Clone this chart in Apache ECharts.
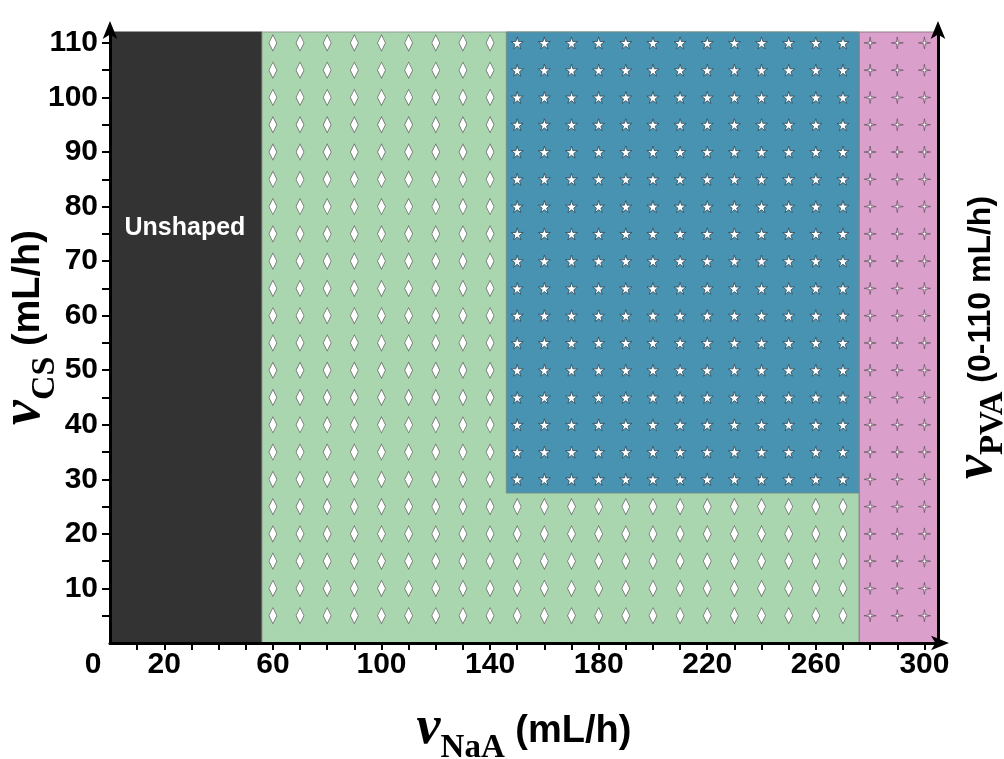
<!DOCTYPE html>
<html>
<head>
<meta charset="utf-8">
<script src="https://cdn.jsdelivr.net/npm/echarts@6/dist/echarts.min.js"></script>
<style>
html,body{margin:0;padding:0;background:#ffffff;}
#chart{width:1004px;height:759px;}
</style>
</head>
<body>
<div id="chart"></div>
<script>
// ---- axis ranges and tick values ----
const xRange = [0, 305];
const yRange = [0, 112];
const xLabelValues = [0, 20, 60, 100, 140, 180, 220, 260, 300];
const xTickValues = [10, 20, 30, 40, 50, 60, 70, 80, 90, 100, 110, 120, 130, 140, 150, 160, 170, 180, 190, 200, 210, 220, 230, 240, 250, 260, 270, 280, 290, 300];
const yLabelValues = [10, 20, 30, 40, 50, 60, 70, 80, 90, 100, 110];
const yTickValues = [5, 10, 15, 20, 25, 30, 35, 40, 45, 50, 55, 60, 65, 70, 75, 80, 85, 90, 95, 100, 105, 110];

// ---- regions (data coordinates) ----
const regionNames = ['Unshaped', 'Region A', 'Region B', 'Region C'];
const regionX0 = [0, 56, 146, 276];
const regionX1 = [56, 276, 276, 305];
const regionY0 = [0, 0, 27.5, 0];
const regionY1 = [112, 112, 112, 112];

// ---- marker grids ----
const diamondColsA = [60, 70, 80, 90, 100, 110, 120, 130, 140];
const diamondRowsA = [5, 10, 15, 20, 25, 30, 35, 40, 45, 50, 55, 60, 65, 70, 75, 80, 85, 90, 95, 100, 105, 110];
const diamondColsB = [150, 160, 170, 180, 190, 200, 210, 220, 230, 240, 250, 260, 270];
const diamondRowsB = [5, 10, 15, 20, 25];
const starCols = [150, 160, 170, 180, 190, 200, 210, 220, 230, 240, 250, 260, 270];
const starRows = [30, 35, 40, 45, 50, 55, 60, 65, 70, 75, 80, 85, 90, 95, 100, 105, 110];
const sparkleCols = [280, 290, 300];
const sparkleRows = [5, 10, 15, 20, 25, 30, 35, 40, 45, 50, 55, 60, 65, 70, 75, 80, 85, 90, 95, 100, 105, 110];

const unshapedLabelPos = [27.6, 76];

// ---- styles ----
const regionFill = ['#333333', '#a9d6af', '#4892b2', '#da9fcb'];
const regionStroke = ['#333333', '#8e9e90', '#6f8e8a', '#8f7a88'];

function grid(cols, rows) {
  const out = [];
  cols.forEach(c => rows.forEach(r => out.push([c, r])));
  return out;
}

const regionData = regionNames.map((n, i) => [regionX0[i], regionY0[i], regionX1[i], regionY1[i], i]);

const starPath = 'path://M50,0 L61,35 L98,35 L68,57 L79,91 L50,70 L21,91 L32,57 L2,35 L39,35 Z';
const sparklePath = 'path://M50,0 L57,43 L100,50 L57,57 L50,100 L43,57 L0,50 L43,43 Z';

function makeRich(vs, ss, us, pv, pu) {
  return {
    v: {fontFamily: 'Liberation Serif', fontStyle: 'italic', fontWeight: 'bold', fontSize: vs, color: '#000', verticalAlign: 'bottom', padding: [0, 0, pv, 0]},
    s: {fontFamily: 'Liberation Serif', fontWeight: 'bold', fontSize: ss, color: '#000', verticalAlign: 'bottom'},
    u: {fontFamily: 'Liberation Sans', fontWeight: 'bold', fontSize: us, color: '#000', verticalAlign: 'bottom', padding: [0, 0, pu, 0]}
  };
}

const axisLineStyle = {color: '#000', width: 3};
const tickFont = {fontFamily: 'Liberation Sans', fontWeight: 'bold', fontSize: 30, color: '#000'};

const chart = echarts.init(document.getElementById('chart'), null, {renderer: 'canvas'});
chart.setOption({
  animation: false,
  backgroundColor: '#ffffff',
  grid: {left: 110, right: 66, top: 32, bottom: 116, containLabel: false, outerBoundsMode: 'none'},
  xAxis: {
    type: 'value', min: xRange[0], max: xRange[1], z: 10,
    splitLine: {show: false},
    axisLine: {show: true, lineStyle: axisLineStyle, symbol: ['none', 'arrow'], symbolSize: [11, 18], symbolOffset: [0, 11]},
    axisTick: {show: true, length: 7, inside: false, lineStyle: {color: '#000', width: 2}, customValues: xTickValues},
    axisLabel: Object.assign({
      show: true, customValues: xLabelValues, margin: 7,
      formatter: function (v) { return v === 0 ? '{o|0}' : String(v); },
      rich: {o: Object.assign({padding: [0, 34, 0, 0]}, tickFont)}
    }, tickFont),
    name: '{v|v}{s|NaA}{u| (mL/h)}',
    nameLocation: 'middle', nameGap: 59,
    nameTextStyle: {rich: makeRich(54, 33, 38, 9, 14)}
  },
  yAxis: [{
    type: 'value', min: yRange[0], max: yRange[1], z: 10, position: 'left',
    splitLine: {show: false},
    axisLine: {show: true, lineStyle: axisLineStyle, symbol: ['none', 'arrow'], symbolSize: [11, 18], symbolOffset: [0, 11]},
    axisTick: {show: true, length: 8, lineStyle: {color: '#000', width: 2}, customValues: yTickValues},
    axisLabel: Object.assign({show: true, customValues: yLabelValues, margin: 12}, tickFont),
    name: '{v|v}{s|CS}{u| (mL/h)}',
    nameLocation: 'middle', nameGap: 48, nameRotate: 90, nameMoveOverlap: false,
    nameTextStyle: {rich: makeRich(56, 34, 38, 9, 14), padding: [0, 0, 0, 20]}
  }, {
    type: 'value', min: yRange[0], max: yRange[1], z: 10, position: 'right',
    splitLine: {show: false},
    axisLine: {show: true, lineStyle: axisLineStyle, symbol: ['none', 'arrow'], symbolSize: [11, 18], symbolOffset: [0, 11]},
    axisTick: {show: false},
    axisLabel: {show: false},
    name: '{v|v}{s|PVA}{u| (0-110 mL/h)}',
    nameLocation: 'middle', nameGap: 12, nameRotate: 90,
    nameTextStyle: {rich: makeRich(54, 33, 32, 6, 13)}
  }],
  series: [
    {
      type: 'custom', name: 'regions', z: 1, silent: true, clip: false,
      encode: {x: [0, 2], y: [1, 3]},
      data: regionData,
      renderItem: function (params, api) {
        const i = api.value(4);
        const p0 = api.coord([api.value(0), api.value(1)]);
        const p1 = api.coord([api.value(2), api.value(3)]);
        return {
          type: 'rect',
          shape: {x: p0[0], y: p1[1], width: p1[0] - p0[0], height: p0[1] - p1[1]},
          style: {fill: regionFill[i], stroke: regionStroke[i], lineWidth: 1}
        };
      }
    },
    {
      type: 'scatter', name: 'diamondA', z: 3, silent: true,
      symbol: 'diamond', symbolSize: [8, 16],
      itemStyle: {color: '#ffffff', borderColor: '#6b6b6b', borderWidth: 0.8, opacity: 1},
      data: grid(diamondColsA, diamondRowsA)
    },
    {
      type: 'scatter', name: 'diamondB', z: 3, silent: true,
      symbol: 'diamond', symbolSize: [8, 16],
      itemStyle: {color: '#ffffff', borderColor: '#6b6b6b', borderWidth: 0.8, opacity: 1},
      data: grid(diamondColsB, diamondRowsB)
    },
    {
      type: 'scatter', name: 'star', z: 3, silent: true,
      symbol: starPath, symbolSize: 12,
      itemStyle: {color: '#ffffff', borderColor: '#2c4654', borderWidth: 0.8, opacity: 1},
      data: grid(starCols, starRows)
    },
    {
      type: 'scatter', name: 'sparkle', z: 3, silent: true,
      symbol: sparklePath, symbolSize: 12,
      itemStyle: {color: '#ffffff', borderColor: '#6a5264', borderWidth: 0.8, opacity: 1},
      data: grid(sparkleCols, sparkleRows)
    },
    {
      type: 'scatter', name: 'label', z: 4, silent: true,
      symbolSize: 1,
      itemStyle: {color: 'rgba(0,0,0,0)', opacity: 1},
      label: {show: true, position: 'inside', formatter: regionNames[0], color: '#ffffff', fontFamily: 'Liberation Sans', fontWeight: 'bold', fontSize: 25, opacity: 1},
      data: [unshapedLabelPos]
    }
  ]
});
</script>
</body>
</html>
